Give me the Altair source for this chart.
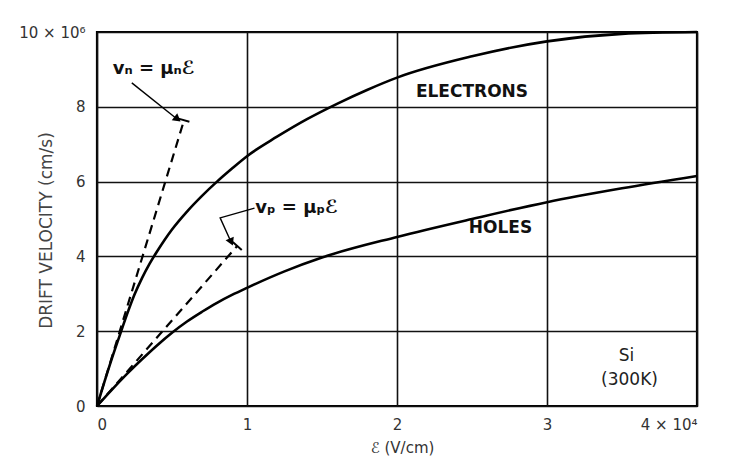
import altair as alt
import pandas as pd

# ---- data (field in 1e4 V/cm, velocity in 1e6 cm/s) ----
field_e = [0, 0.05, 0.1, 0.15, 0.2, 0.25, 0.3, 0.35, 0.4, 0.5, 0.6, 0.7, 0.8, 0.9, 1.0,
           1.2, 1.4, 1.6, 1.8, 2.0, 2.5, 3.0, 3.5, 4.0]
vel_e = [0, 0.65, 1.28, 1.87, 2.45, 2.98, 3.42, 3.8, 4.13, 4.72, 5.2, 5.62, 6.0, 6.35, 6.68,
         7.2, 7.67, 8.08, 8.45, 8.78, 9.35, 9.75, 9.95, 10.0]

field_h = [0, 0.1, 0.2, 0.3, 0.4, 0.5, 0.6, 0.7, 0.8, 0.9, 1.0, 1.25, 1.5, 2.0, 2.5, 3.0, 3.5, 4.0]
vel_h = [0, 0.44, 0.86, 1.25, 1.62, 1.96, 2.26, 2.52, 2.76, 2.97, 3.16, 3.6, 3.97, 4.52, 5.0, 5.45, 5.82, 6.15]

# low-field linear lines v = mu * E
lin_group = ["n", "n", "p", "p"]
lin_field = [0, 0.58, 0, 0.935]
lin_vel = [0, 7.64, 0, 4.28]

# end ticks of the linear lines
tick_x = [0.537, 0.905]
tick_y = [7.69, 4.385]
tick_x2 = [0.616, 0.965]
tick_y2 = [7.60, 4.17]

# leader lines
lead_group = ["n", "n", "p", "p", "p"]
lead_order = [0, 1, 0, 1, 2]
lead_x = [0.232, 0.525, 1.05, 0.821, 0.89]
lead_y = [8.64, 7.70, 5.29, 5.03, 4.42]

head_x = [0.537, 0.895]
head_y = [7.67, 4.385]
head_angle = [128, 156]

# text labels
lab_text = ["ELECTRONS", "HOLES"]
lab_x = [2.5, 2.69]
lab_y = [8.4, 4.75]

mat_text = ["Si", "(300K)"]
mat_x = [3.53, 3.55]
mat_y = [1.33, 0.7]

eq_text = ["vₙ = μₙℰ", "vₚ = μₚℰ"]
eq_x = [0.105, 1.055]
eq_y = [9.01, 5.29]

x_ticks = [0, 1, 2, 3, 4]
y_ticks = [0, 2, 4, 6, 8, 10]

FONT = "DejaVu Sans"

xs = alt.Scale(domain=[0, 4], nice=False)
ys = alt.Scale(domain=[0, 10], nice=False)

x_axis = alt.Axis(
    values=x_ticks, format="d",
    labelExpr="datum.value == 4 ? '4 × 10⁴' : datum.label",
    title="ℰ (V/cm)",
    titleFont=FONT, titleFontSize=15, titleFontWeight="normal", titleColor="#333",
    titleY=34, titleX=305, titleBaseline="top",
    labelFont=FONT, labelFontSize=15, labelColor="#333", labelPadding=11,
    ticks=False, domain=False, grid=True, gridColor="#111", gridWidth=1.6, gridOpacity=1,
)
y_axis = alt.Axis(
    values=y_ticks, format="d",
    labelExpr="datum.value == 10 ? '10 × 10⁶' : datum.label",
    title="DRIFT VELOCITY (cm/s)",
    titleFont=FONT, titleFontSize=17, titleFontWeight="normal", titleColor="#444",
    titleX=-42, titleY=198, titleAngle=-90, titleBaseline="bottom", titleAlign="center",
    labelFont=FONT, labelFontSize=15, labelColor="#333", labelPadding=12,
    ticks=False, domain=False, grid=True, gridColor="#111", gridWidth=1.6, gridOpacity=1,
)

df_e = pd.DataFrame({"E": field_e, "v": vel_e})
df_h = pd.DataFrame({"E": field_h, "v": vel_h})
df_lin = pd.DataFrame({"g": lin_group, "E": lin_field, "v": lin_vel})
df_tick = pd.DataFrame({"x": tick_x, "y": tick_y, "x2": tick_x2, "y2": tick_y2})
df_lead = pd.DataFrame({"g": lead_group, "o": lead_order, "E": lead_x, "v": lead_y})
df_head = pd.DataFrame({"E": head_x, "v": head_y, "a": head_angle})
df_lab = pd.DataFrame({"t": lab_text, "E": lab_x, "v": lab_y})
df_mat = pd.DataFrame({"t": mat_text, "E": mat_x, "v": mat_y})
df_eq = pd.DataFrame({"t": eq_text, "E": eq_x, "v": eq_y})

electrons = alt.Chart(df_e).mark_line(color="black", strokeWidth=2.6, interpolate="monotone").encode(
    x=alt.X("E:Q", scale=xs, axis=x_axis),
    y=alt.Y("v:Q", scale=ys, axis=y_axis),
)
holes = alt.Chart(df_h).mark_line(color="black", strokeWidth=2.6, interpolate="monotone").encode(
    x=alt.X("E:Q", scale=xs), y=alt.Y("v:Q", scale=ys)
)
linear = alt.Chart(df_lin).mark_line(color="black", strokeWidth=2.2, strokeDash=[9, 6]).encode(
    x=alt.X("E:Q", scale=xs), y=alt.Y("v:Q", scale=ys), detail="g:N"
)
ticks = alt.Chart(df_tick).mark_rule(color="black", strokeWidth=2).encode(
    x=alt.X("x:Q", scale=xs), y=alt.Y("y:Q", scale=ys), x2="x2:Q", y2="y2:Q"
)
leaders = alt.Chart(df_lead).mark_line(color="black", strokeWidth=1.4).encode(
    x=alt.X("E:Q", scale=xs), y=alt.Y("v:Q", scale=ys), detail="g:N", order="o:Q"
)
heads = alt.Chart(df_head).mark_point(shape="triangle-up", filled=True, color="black", size=80, opacity=1).encode(
    x=alt.X("E:Q", scale=xs), y=alt.Y("v:Q", scale=ys), angle=alt.Angle("a:Q", scale=None)
)
labels = alt.Chart(df_lab).mark_text(font=FONT, fontSize=17, fontWeight="bold", color="#111").encode(
    x=alt.X("E:Q", scale=xs), y=alt.Y("v:Q", scale=ys), text="t:N"
)
mats = alt.Chart(df_mat).mark_text(font=FONT, fontSize=17, fontWeight="normal", color="#222").encode(
    x=alt.X("E:Q", scale=xs), y=alt.Y("v:Q", scale=ys), text="t:N"
)
eqs = alt.Chart(df_eq).mark_text(font=FONT, fontSize=18, fontWeight="bold", color="#111", align="left").encode(
    x=alt.X("E:Q", scale=xs), y=alt.Y("v:Q", scale=ys), text="t:N"
)

chart = alt.layer(electrons, holes, linear, ticks, leaders, heads, labels, mats, eqs).properties(
    width=600, height=374,
    autosize=alt.AutoSizeParams(type="none"),
    padding={"left": 89, "top": 24, "right": 35, "bottom": 51},
    background="white",
).configure_view(stroke="black", strokeWidth=2.2)

chart.save("out.html", embed_options={"renderer": "svg", "actions": False})
